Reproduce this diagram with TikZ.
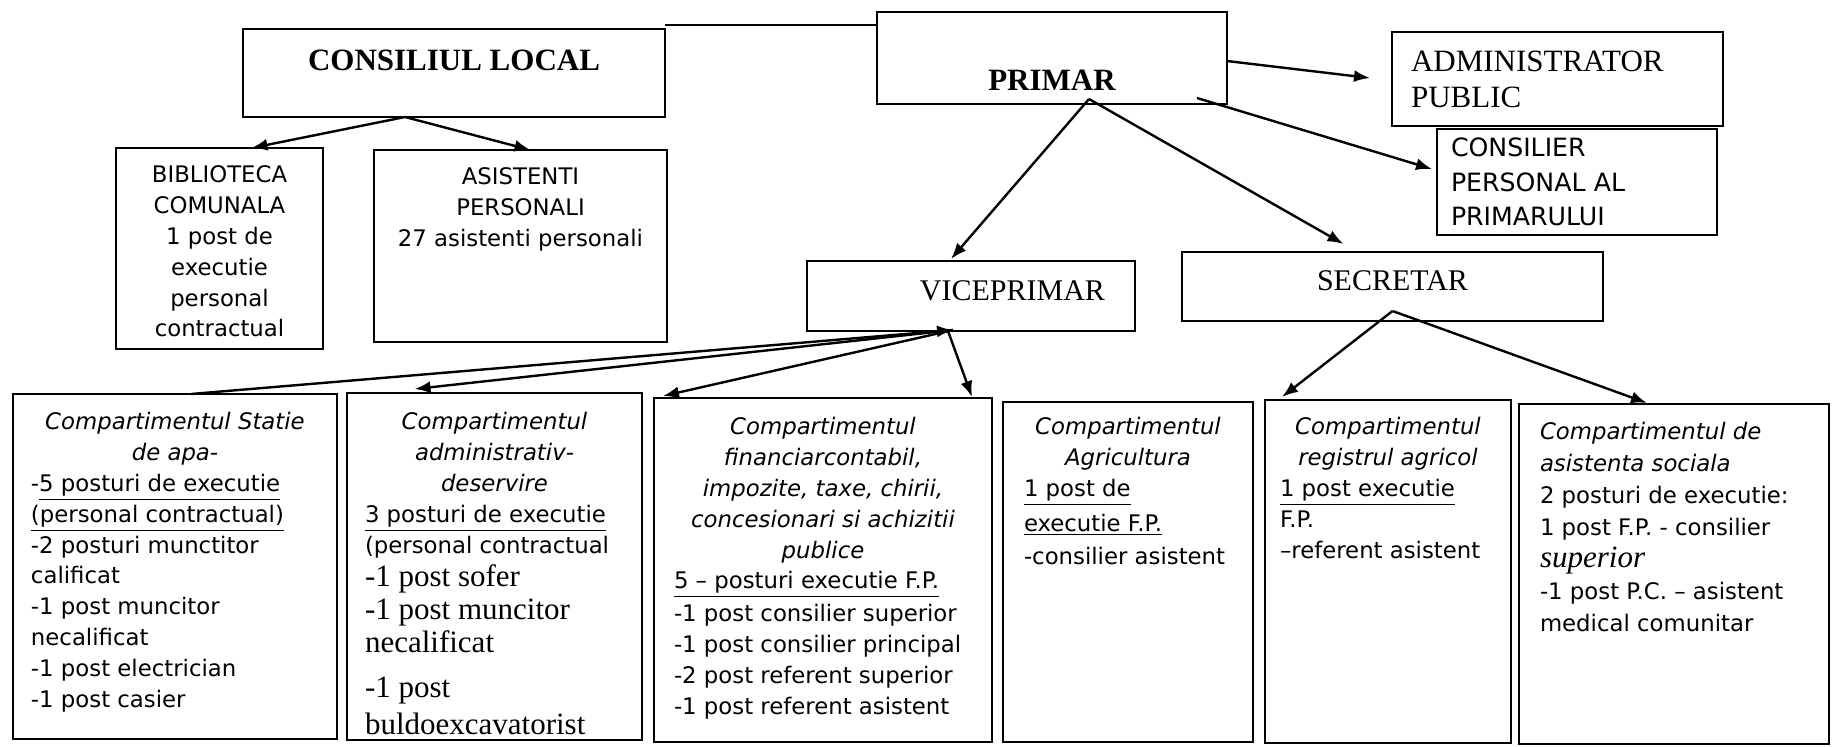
\documentclass[tikz,border=0pt]{standalone}
\usepackage{fontspec}
\setmainfont{Liberation Serif}
\setsansfont{DejaVu Sans}
\usetikzlibrary{calc,arrows.meta}

\newcommand{\compbox}[3]{\parbox[t][#2][t]{#1}{\strut#3}}

\tikzset{
  orgbox/.style={draw, line width=1.4pt, anchor=north west, inner sep=0pt, outer sep=0pt},
  headbox/.style={orgbox, font=\rmfamily\fontsize{15.5}{18}\selectfont},
  link/.style={line width=1.2pt}
}

\begin{document}
\begin{tikzpicture}[x=0.5pt, y=-0.5pt, >={Latex[length=8pt,width=6pt]},
    font=\sffamily\fontsize{11.4}{15.4}\selectfont]
  \useasboundingbox (0,0) rectangle (1832,746);

  % Conducere
  \node[headbox, font=\rmfamily\bfseries\fontsize{15.5}{18}\selectfont, minimum width=211pt,
    inner ysep=4pt, text height=16.5pt, text depth=19.5pt] (consiliu) at (243,29) {CONSILIUL LOCAL};
  \node[headbox, font=\rmfamily\bfseries\fontsize{15.5}{18}\selectfont, minimum width=175pt,
    inner ysep=3pt, text height=36pt, text depth=4pt] (primar) at (877,12) {PRIMAR};
  \node[headbox, inner xsep=9.5pt, text width=146.5pt, align=left, minimum height=47pt]
    (admin) at (1392,32) {ADMINISTRATOR\\PUBLIC};
  \node[orgbox, font=\sffamily\fontsize{12.6}{17.25}\selectfont, inner xsep=7pt, text width=126pt,
    align=left, minimum height=53pt] (consilier) at (1437,129) {CONSILIER\\PERSONAL AL\\PRIMARULUI};
  \node[headbox, font=\rmfamily\fontsize{15}{18}\selectfont, inner xsep=15pt, text width=134pt, align=right,
    inner ysep=4pt, text height=15.5pt, text depth=11.5pt] (viceprimar) at (807,261) {VICEPRIMAR};
  \node[headbox, font=\rmfamily\fontsize{15}{18}\selectfont, minimum width=210.5pt,
    inner ysep=4pt, text height=15pt, text depth=11.5pt] (secretar) at (1182,252) {SECRETAR};

  % Subordonate consiliului
  \node[orgbox, inner xsep=4pt, inner ysep=6.7pt] (biblioteca) at (116,148)
    {\compbox{95.5pt}{87.1pt}{{\centering BIBLIOTECA\\COMUNALA\\1 post de\\executie\\personal\\contractual\par}}};
  \node[orgbox, inner xsep=4pt, inner ysep=6.7pt] (asistenti) at (374,150)
    {\compbox{138.5pt}{82.6pt}{{\centering ASISTENTI\\PERSONALI\\27 asistenti personali\par}}};

  % Compartimente
  \node[orgbox, inner xsep=9pt, inner ysep=7.2pt] (statie) at (13,394)
    {\compbox{144pt}{158.1pt}{{\centering\itshape Compartimentul Statie\\de apa-\par}\raggedright
      -\underline{5 posturi de executie}\\\underline{(personal contractual)}\\-2 posturi munctitor\\calificat\\
      -1 post muncitor\\necalificat\\-1 post electrician\\-1 post casier}};
  \node[orgbox, inner xsep=9pt, inner ysep=7.7pt] (administrativ) at (347,393)
    {\compbox{129.5pt}{158.1pt}{{\centering\itshape Compartimentul\\administrativ-\\deservire\par}\raggedright
      \underline{3 posturi de executie}\\(personal contractual\par
      {\rmfamily\fontsize{15.5}{16.5}\selectfont -1 post sofer\\-1 post muncitor\\necalificat\\[6pt]-1 post\\[2pt]buldoexcavatorist\par}}};
  \node[orgbox, inner xsep=10pt, inner ysep=7.7pt] (financiar) at (654,398)
    {\compbox{149pt}{156.6pt}{{\centering\itshape Compartimentul\\financiarcontabil,\\impozite, taxe, chirii,\\
      concesionari si achizitii\\publice\par}\raggedright
      \underline{5 – posturi executie F.P.}\\[1pt]-1 post consilier superior\\-1 post consilier principal\\
      -2 post referent superior\\-1 post referent asistent}};
  \node[orgbox, inner xsep=10.5pt, inner ysep=5.7pt] (agricultura) at (1003,402)
    {\compbox{104pt}{158.6pt}{{\centering\itshape Compartimentul\\Agricultura\par}\raggedright
      \underline{1 post de}\\[2pt]\underline{executie F.P.}\\[1pt]-consilier asistent}};
  \node[orgbox, inner xsep=7.5pt, inner ysep=6.7pt] (registru) at (1265,400)
    {\compbox{108pt}{158.1pt}{{\centering\itshape Compartimentul\\registrul agricol\par}\raggedright
      \underline{1 post executie}\\F.P.\\–referent asistent}};
  \node[orgbox, font=\sffamily\fontsize{11.4}{16}\selectfont, inner xsep=10.5pt, inner ysep=6.5pt] (social) at (1519,404)
    {\compbox{134pt}{157pt}{\raggedright{\itshape Compartimentul de\\asistenta sociala}\\2 posturi de executie:\\
      1 post F.P. - consilier\\{\rmfamily\itshape\fontsize{15.5}{16}\selectfont superior}\\
      -1 post P.C. – asistent\\medical comunitar}};

  % Legaturi
  \coordinate (cl) at ($(consiliu.south)+(-49,0)$);
  \coordinate (cp) at ($(consiliu.north east)+(0,-4)$);
  \coordinate (pr) at ($(primar.south)+(37,-5)$);
  \coordinate (vp) at ($(viceprimar.south)+(-18,-1)$);
  \coordinate (sc) at ($(secretar.south)+(0,-10)$);

  \draw[link,->] (cl) -- ($(biblioteca.north)+(32,0)$);
  \draw[link,->] (cl) -- ($(asistenti.north)+(10,0)$);
  \draw[link] (cp) -- (cp -| primar.west);
  \draw[link,->] ($(primar.east)+(0,3)$) -- ($(admin.west)+(-22,-1)$);
  \draw[link,->] ($(primar.south east)+(-30,-6)$) -- ($(consilier.west)+(-5,-13)$);
  \draw[link,->] (pr) -- ($(viceprimar.north)+(-20,-2)$);
  \draw[link,->] (pr) -- ($(secretar.north)+(-49,-8)$);

  \draw[link,<-] (vp) -- ($(statie.north)+(16,0)$);
  \draw[link,->] (vp) -- ($(administrativ.north)+(-80,-4)$);
  \draw[link,->] (vp) -- ($(financiar.north)+(-160,-2)$);
  \draw[link,->] ($(viceprimar.south)+(-23,0)$) -- ($(financiar.north)+(149,-1)$);
  \draw[link,->] (sc) -- ($(registru.north)+(-106,-3)$);
  \draw[link,->] (sc) -- ($(social.north)+(-27,-1)$);
\end{tikzpicture}
\end{document}
